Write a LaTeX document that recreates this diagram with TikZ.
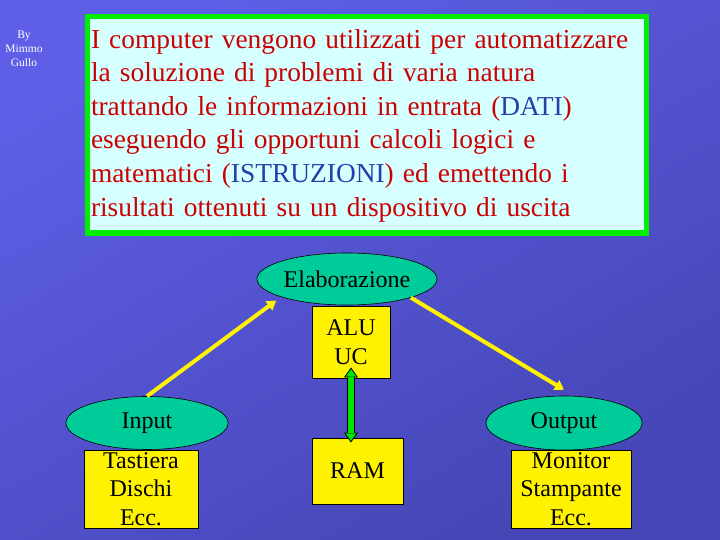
\documentclass[tikz,border=0pt]{standalone}
\usepackage{fontspec}
\setmainfont{Liberation Serif}
\usetikzlibrary{shapes.geometric, arrows.meta, positioning}
\hyphenpenalty=10000

\definecolor{bgtop}{RGB}{94,94,230}
\definecolor{bgbot}{RGB}{70,70,182}
\definecolor{unitfill}{RGB}{0,204,153}
\definecolor{frame}{RGB}{0,238,0}
\definecolor{panel}{RGB}{214,255,255}
\definecolor{textred}{RGB}{204,0,0}
\definecolor{textblue}{RGB}{40,60,170}
\definecolor{linkgreen}{RGB}{0,230,0}

\begin{document}
\begin{tikzpicture}[x=1pt, y=-1pt,
    unit/.style={ellipse, draw=black, line width=0.6pt, fill=unitfill,
                 inner sep=0pt, font=\fontsize{24}{28.8}\selectfont},
    part/.style={rectangle, draw=black, line width=0.9pt, fill=yellow,
                 inner sep=0pt, align=center, font=\fontsize{24}{28.5}\selectfont},
    flow/.style={-{Triangle[length=9pt, width=11pt]}, line width=4pt, draw=yellow},
    bus/.style={black, line width=7.5pt,
                {Triangle[fill=linkgreen, line width=0.8pt, length=10pt, width=14pt]}-{Triangle[fill=linkgreen, line width=0.8pt, length=10pt, width=14pt]}}
  ]
    \shade[top color=bgtop, bottom color=bgbot, shading angle=30] (0,0) rectangle (720,540);
    \useasboundingbox (0,0) rectangle (720,540);

    \node[text=white, align=center, font=\fontsize{11.5}{14}\selectfont] (author) at (24,49) {By\\Mimmo\\Gullo};

    \node[draw=frame, line width=5pt, fill=panel, anchor=north west,
          minimum width=559pt, minimum height=216pt, text width=551pt, inner xsep=4pt,
          align=left, text=textred, font=\fontsize{27.4}{33.6}\selectfont] (intro) at (84.5,14.5)
      {\rule{0pt}{20pt}I computer vengono utilizzati per automatizzare\\
       la soluzione di problemi di varia natura\\
       trattando le informazioni in entrata (\textcolor{textblue}{DATI})\\
       eseguendo gli opportuni calcoli logici e\\
       matematici (\textcolor{textblue}{ISTRUZIONI}) ed emettendo i\\
       risultati ottenuti su un dispositivo di uscita};

    \node[unit, minimum width=180pt, minimum height=52pt] (elab) at (347,279) {Elaborazione};
    \node[part, minimum width=78pt, minimum height=72pt] (alu) at (351,342) {ALU\\UC};
    \node[part, minimum width=91pt, minimum height=66pt] (ram) at (357.5,471) {RAM};

    \node[unit, minimum width=162pt, minimum height=53pt] (inp) at (147,423) {Input};
    \node[part, minimum width=114pt, minimum height=78pt] (inpdev) at (141,489) {Tastiera\\Dischi\\Ecc.};

    \node[unit, minimum width=156pt, minimum height=54pt] (outp) at (564,423) {Output};
    \node[part, minimum width=120pt, minimum height=78pt] (outdev) at (571,489) {Monitor\\Stampante\\Ecc.};

    \draw[flow] (inp.north) -- ([xshift=-7pt, yshift=-3pt]elab.south west);
    \draw[flow] (elab.south east) -- ([yshift=6pt]outp.north);

    \coordinate (alubot) at ([yshift=11pt]alu.south);
    \coordinate (ramtop) at ([yshift=-5pt]alu.south |- ram.north);
    \draw[bus] (alubot) -- (ramtop);
    \draw[linkgreen, line width=5.6pt, shorten <=9.5pt, shorten >=9.5pt] (alubot) -- (ramtop);
\end{tikzpicture}
\end{document}
